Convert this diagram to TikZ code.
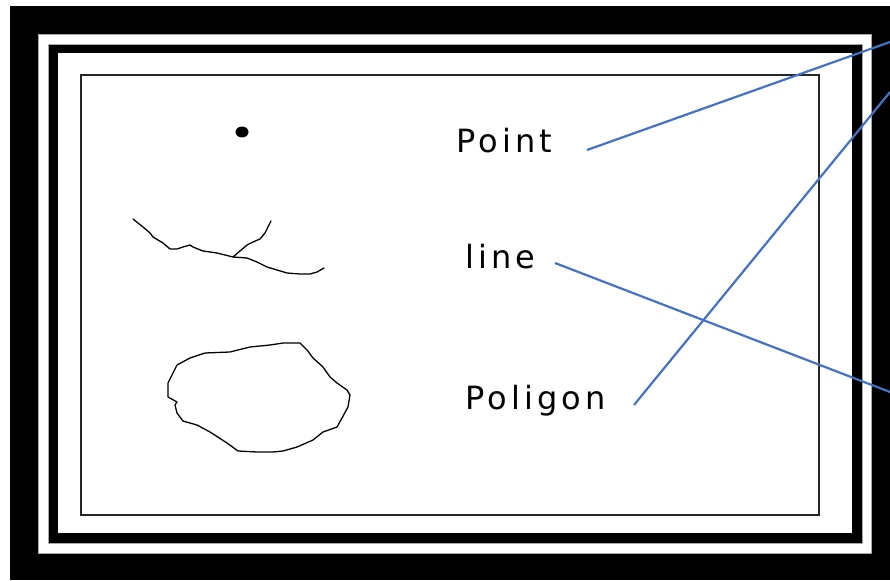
\documentclass[tikz,border=0pt]{standalone}
\usepackage{fontspec}
\newfontfamily\labfont[LetterSpace=13]{DejaVu Sans}
\definecolor{linkblue}{HTML}{4472C4}
\begin{document}
\begin{tikzpicture}[x=1pt,y=-1pt,
  lab/.style={font=\labfont\fontsize{32}{34}\selectfont, inner sep=0pt, anchor=base west},
  link/.style={draw=linkblue, line width=2.2pt},
  sketch/.style={draw=black, line width=1.3pt, line join=round, line cap=round}]
\useasboundingbox (0,0) rectangle (890,580);
\fill[white] (0,0) rectangle (890,580);
\fill[black] (10,6) rectangle (890,580);
\filldraw[fill=white, draw=gray!70, line width=0.8pt] (38,34) rectangle (871,553);
\filldraw[fill=black, draw=gray!70, line width=0.8pt] (48,44) rectangle (862,543);
\fill[white] (58,53) rectangle (852,533);
\draw[black!85, line width=1.3pt] (81,75) rectangle (819,515);
% point
\fill[black] (242,132) ellipse (6.5 and 5.5);
% line shape
\draw[sketch] (133,219) -- (143,227) -- (150,233) -- (153,237) -- (163,243) -- (170,249) -- (177,249) -- (183,247) -- (190,245) -- (193,247) -- (203,251) -- (217,253) -- (233,257) -- (247,258) -- (257,262) -- (267,267) -- (277,270) -- (287,273) -- (300,274) -- (310,274) -- (317,272) -- (324,268);
\draw[sketch] (233,257) -- (240,251) -- (247,245) -- (253,242) -- (260,239) -- (265,233) -- (268,227) -- (271,221);
% polygon shape
\draw[sketch] (205,353) -- (230,352) -- (250,347) -- (270,345) -- (283,343) -- (300,343) -- (307,350) -- (313,358) -- (323,367) -- (330,377) -- (337,383) -- (347,390) -- (350,395) -- (348,407) -- (342,418) -- (337,427) -- (323,432) -- (313,440) -- (297,447) -- (283,451) -- (273,452) -- (257,452) -- (238,451) -- (227,443) -- (210,432) -- (197,425) -- (183,421) -- (177,413) -- (175,405) -- (177,402) -- (168,397) -- (168,383) -- (173,373) -- (177,365) -- (190,358) -- cycle;
% labels
\node[lab] (point) at (456,152.5) {Point};
\node[lab] (line) at (465,268) {line};
\node[lab] (poligon) at (465,409) {Poligon};
% connectors
\coordinate (ps) at (587,150);
\coordinate (pe) at (890,42);
\coordinate (ls) at (555,263);
\coordinate (le) at (890,392);
\coordinate (gs) at (634,405);
\coordinate (ge) at (890,92);
\draw[link] (ps) -- (pe);
\draw[link] (ls) -- (le);
\draw[link] (gs) -- (ge);
\end{tikzpicture}
\end{document}
